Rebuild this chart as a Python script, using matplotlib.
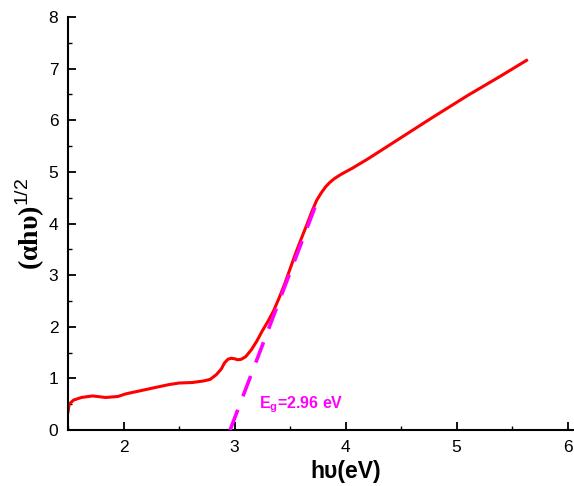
import numpy as np
import matplotlib.pyplot as plt

plt.rcParams['font.family'] = ['Liberation Sans', 'DejaVu Sans']
plt.rcParams['mathtext.fontset'] = 'custom'
plt.rcParams['mathtext.rm'] = 'Liberation Sans'
plt.rcParams['mathtext.it'] = 'Liberation Sans'
plt.rcParams['mathtext.bf'] = 'Liberation Sans:bold'

# photon energy (eV) and (alpha h nu)^1/2
hv = [1.50, 1.51, 1.55, 1.62, 1.72, 1.84, 1.95, 2.02, 2.15, 2.30, 2.41, 2.50,
      2.62, 2.72, 2.78, 2.835, 2.88, 2.91, 2.94, 2.97, 3.00, 3.03, 3.06, 3.10,
      3.15, 3.20, 3.25, 3.30, 3.35, 3.40, 3.45, 3.50, 3.55, 3.60, 3.65, 3.70,
      3.74, 3.78, 3.82, 3.86, 3.90, 3.95, 4.00, 4.06, 4.13, 4.20, 4.28, 4.78,
      5.10, 5.40, 5.63]
ahv = [0.35, 0.50, 0.58, 0.63, 0.66, 0.63, 0.65, 0.70, 0.76, 0.83, 0.88, 0.91,
       0.92, 0.95, 0.98, 1.07, 1.18, 1.30, 1.37, 1.39, 1.38, 1.36, 1.37, 1.42,
       1.55, 1.72, 1.92, 2.10, 2.30, 2.55, 2.82, 3.12, 3.42, 3.70, 3.97, 4.25,
       4.45, 4.59, 4.71, 4.80, 4.87, 4.94, 5.00, 5.07, 5.16, 5.25, 5.36, 6.05,
       6.48, 6.86, 7.16]

# tangent (Tauc extrapolation)
fit_x = [2.96, 3.75]
fit_y = [0.0, 4.46]
eg_label = 'E$_\\mathbf{g}$=2.96 eV'

fig = plt.figure(figsize=(5.74, 4.86), dpi=100)
# axes run a bit past the right edge of the picture (x up to 6.5)
ax = fig.add_axes([0.1185, 0.1152, 0.967, 0.8498])

ax.plot(fit_x, fit_y, color='#ff00ff', lw=2.6, dashes=(6, 4), zorder=3)
ax.plot(hv, ahv, color='#ff0000', lw=2.2, zorder=2)

ax.text(3.22, 0.42, eg_label, color='#ff00ff', fontsize=11.5, fontweight='bold')

ax.set_xlim(1.5, 6.5)
ax.set_ylim(0, 8)
ax.set_xticks([2, 3, 4, 5, 6])
ax.set_xticks(np.arange(1.5, 6.51, 0.5), minor=True)
ax.set_yticks(range(0, 9))
ax.set_yticks(np.arange(0, 8.01, 0.5), minor=True)

ax.spines['top'].set_visible(False)
ax.spines['right'].set_visible(False)
ax.spines['left'].set_linewidth(1.5)
ax.spines['bottom'].set_linewidth(1.5)
ax.tick_params(which='major', direction='in', length=6, width=1.3, labelsize=12.5, pad=7)
ax.tick_params(which='minor', direction='in', length=3, width=1.0)

ax.set_xlabel('h\u03c5(eV)', fontsize=16.5, fontweight='bold', labelpad=4)
ax.set_ylabel('(\u03b1h\u03c5)$^{1/2}$', fontsize=20, fontweight='bold',
              family='Liberation Serif', labelpad=1)

fig.savefig('out.png', dpi=100)
